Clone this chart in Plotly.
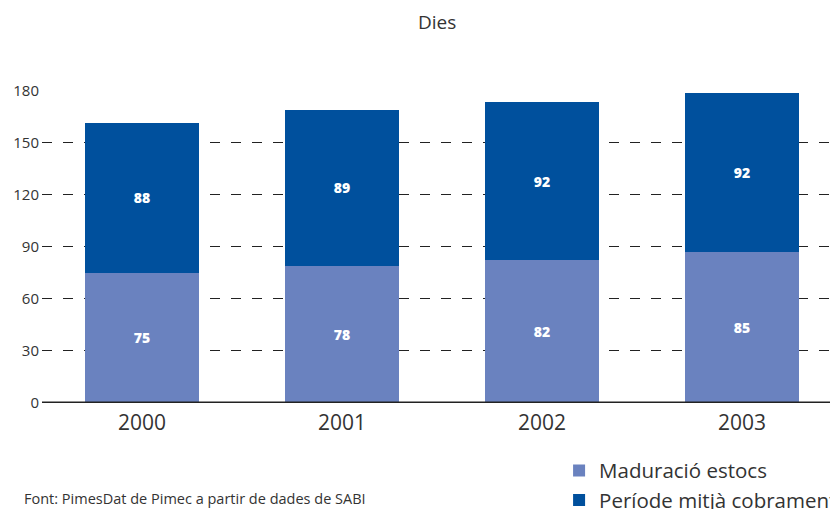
import plotly.graph_objects as go

years = ["2000", "2001", "2002", "2003"]
maduracio = [75, 79, 82.5, 87]
periode = [86.5, 90, 91, 91.5]
maduracio_labels = ["75", "78", "82", "85"]
periode_labels = ["88", "89", "92", "92"]
y_ticks = [0, 30, 60, 90, 120, 150, 180]

font_family = "Open Sans, Noto Sans, sans-serif"
text_color = "#333333"

fig = go.Figure()
fig.add_trace(go.Bar(
    x=years, y=maduracio, name="Maduració estocs",
    marker=dict(color="#6a82bf", line=dict(width=0)),
    text=maduracio_labels, textposition="inside", insidetextanchor="middle",
    textfont=dict(color="white", size=14, family=font_family, weight=800),
    width=0.57,
))
fig.add_trace(go.Bar(
    x=years, y=periode, name="Període mitjà cobrament",
    marker=dict(color="#00509d", line=dict(width=0)),
    text=periode_labels, textposition="inside", insidetextanchor="middle",
    textfont=dict(color="white", size=14, family=font_family, weight=800),
    width=0.57,
))

# page body has an 8px margin, so the figure is sized/offset to compensate
fig.update_layout(
    barmode="stack",
    width=830, height=501,
    margin=dict(l=34, r=0, t=82, b=106, autoexpand=False),
    paper_bgcolor="white", plot_bgcolor="white",
    font=dict(family=font_family, color=text_color),
    showlegend=True,
    legend=dict(
        x=0.6496, y=-0.152, xanchor="left", yanchor="top",
        font=dict(size=20.5, color=text_color),
        traceorder="normal", itemsizing="constant",
        bgcolor="rgba(0,0,0,0)", tracegroupgap=0,
    ),
    uniformtext=dict(mode=False),
)
fig.update_xaxes(
    type="category", range=[-0.5, 3.48],
    showgrid=False, showline=False, ticks="",
    tickfont=dict(size=21, color=text_color),
    ticklabelstandoff=5,
)
fig.update_yaxes(
    range=[0, 180.5], tickvals=y_ticks,
    showgrid=True, gridcolor="#222222", griddash="10px,11px", gridwidth=1,
    zeroline=False, showline=False, ticks="",
    tickfont=dict(size=15, color=text_color),
    ticklabelstandoff=2,
)
# thick baseline at zero
fig.add_shape(type="line", xref="paper", yref="y", x0=0, x1=1, y0=0, y1=0,
              line=dict(color="#222222", width=3), layer="above")

fig.add_annotation(text="Dies", xref="paper", yref="paper", x=(437 - 42) / 796, y=(403 - 22) / 313,
                   xanchor="center", yanchor="middle", showarrow=False,
                   font=dict(size=19, color=text_color))
fig.add_annotation(text="Font: PimesDat de Pimec a partir de dades de SABI",
                   xref="paper", yref="paper", x=-20 / 796, y=(403 - 498) / 313,
                   xanchor="left", yanchor="middle",
                   showarrow=False, font=dict(size=14.5, color=text_color))

fig.write_html("out.html")
